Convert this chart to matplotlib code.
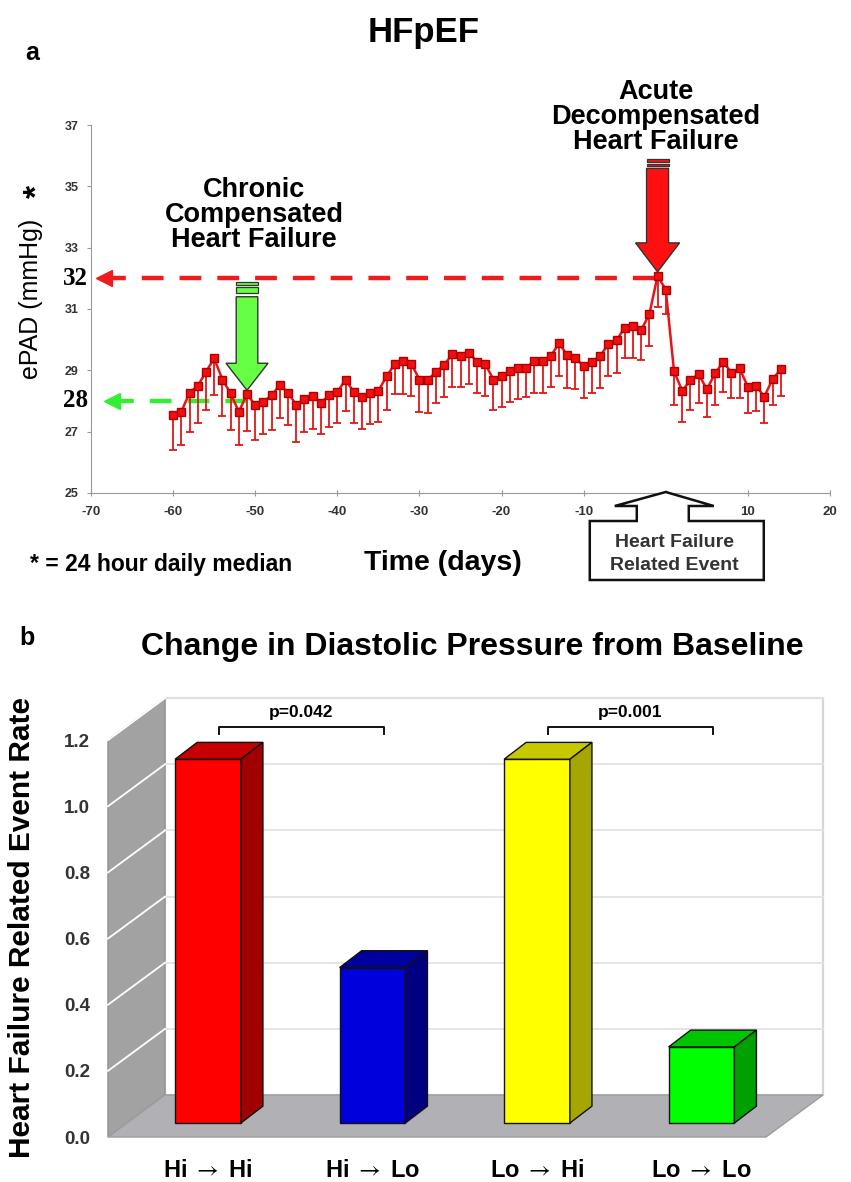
import numpy as np
import matplotlib
matplotlib.use("Agg")
import matplotlib.pyplot as plt
import matplotlib.transforms as mtransforms
from matplotlib.patches import Polygon, Rectangle

# ---- panel a: daily median ePAD around the heart failure event ----
days = np.arange(-60, 15)
epad = np.array([
    27.54, 27.65, 28.27, 28.49, 28.95, 29.39, 28.70, 28.25, 27.65, 28.22,
    27.87, 27.97, 28.19, 28.52, 28.27, 27.87, 28.08, 28.16, 27.94, 28.19,
    28.29, 28.70, 28.29, 28.14, 28.25, 28.33, 28.81, 29.20, 29.31, 29.22,
    28.70, 28.68, 28.95, 29.17, 29.53, 29.46, 29.58, 29.28, 29.22, 28.70,
    28.81, 28.98, 29.08, 29.08, 29.31, 29.31, 29.47, 29.88, 29.50, 29.39,
    29.15, 29.28, 29.47, 29.85, 29.98, 30.39, 30.44, 30.31, 30.83, 32.08,
    31.63, 28.98, 28.33, 28.68, 28.88, 28.38, 28.90, 29.28, 28.92, 29.06,
    28.46, 28.49, 28.14, 28.71, 29.03])
epad_low = np.array([
    26.40, 26.56, 27.00, 27.27, 27.70, 28.19, 27.51, 27.05, 26.56, 27.02,
    26.73, 26.94, 27.05, 27.43, 27.22, 26.67, 27.00, 27.10, 26.94, 27.16,
    27.27, 27.68, 27.29, 27.10, 27.25, 27.33, 27.70, 28.22, 28.22, 28.17,
    27.65, 27.60, 27.95, 28.14, 28.46, 28.46, 28.55, 28.25, 28.17, 27.70,
    27.81, 27.97, 28.08, 28.14, 28.25, 28.27, 28.46, 28.81, 28.41, 28.38,
    28.11, 28.25, 28.41, 28.81, 28.92, 29.39, 29.39, 29.33, 29.79, 31.05,
    30.85, 27.87, 27.33, 27.70, 27.94, 27.49, 27.87, 28.28, 28.11, 28.11,
    27.60, 27.67, 27.27, 27.87, 28.17])
chronic_level = 28
acute_level = 32
chronic_day = -51

# ---- panel b: event rate by change in diastolic pressure ----
groups = [r"Hi $\rightarrow$ Hi", r"Hi $\rightarrow$ Lo",
          r"Lo $\rightarrow$ Hi", r"Lo $\rightarrow$ Lo"]
event_rate = [1.10, 0.47, 1.10, 0.23]
front_cols = ["#ff0000", "#0000dd", "#ffff00", "#00ff00"]
top_cols = ["#c40000", "#00009e", "#c8c800", "#00c400"]
side_cols = ["#a00000", "#000080", "#a6a600", "#00a000"]
p_labels = ["p=0.042", "p=0.001"]
p_pairs = [(0, 1), (2, 3)]

W, H = 851, 1182
plt.rcParams["font.family"] = ["Liberation Sans", "DejaVu Sans"]
plt.rcParams["axes.unicode_minus"] = False
plt.rcParams["mathtext.fontset"] = "stix"
fig = plt.figure(figsize=(W / 100, H / 100), dpi=100)


def fx(x, y):
    # image pixel -> figure fraction
    return x / W, 1 - y / H


# ================= panel a =================
ax = fig.add_axes([91 / W, 1 - 493 / H, (830 - 91) / W, (493 - 125) / H])
ax.set_xlim(-70, 20)
ax.set_ylim(25, 37)
ax.set_xticks(np.arange(-70, 21, 10))
ax.set_yticks(np.arange(25, 38, 2))
for s in ["top", "right"]:
    ax.spines[s].set_visible(False)
for s in ["left", "bottom"]:
    ax.spines[s].set_color("#999999")
ax.tick_params(axis="x", direction="inout", length=5, color="#999999", pad=7,
               labelsize=9.5, labelcolor="#333333")
ax.tick_params(axis="y", direction="out", length=3, color="#999999", pad=6,
               labelsize=9, labelcolor="#333333")
for lab in ax.get_xticklabels() + ax.get_yticklabels():
    lab.set_fontweight("bold")

ax.errorbar(days, epad, yerr=[epad - epad_low, np.zeros_like(epad)], fmt="-s",
            color="#e8141a", lw=1.8, ms=5.5, mfc="#f01010", mec="#b00000",
            ecolor="#e01818", elinewidth=1.3, capsize=3, capthick=1.3, zorder=4)

# reference dashed lines with arrow heads
peak = int(np.argmax(epad))
ax.plot([-68.4, days[peak]], [acute_level] * 2, color="#ee1c1c", lw=3.2,
        dashes=(4.9, 3.6), zorder=3, clip_on=False)
ax.plot([-68.4], [acute_level], marker="<", ms=12, color="#ee1c1c", mec="#ee1c1c",
        clip_on=False, zorder=3)
ax.plot([-67.4, -50.3], [chronic_level] * 2, color="#33ee33", lw=3.2,
        dashes=(4.9, 3.6), zorder=3, clip_on=False)
ax.plot([-67.4], [chronic_level], marker="<", ms=11, color="#33ee33", mec="#33ee33",
        clip_on=False, zorder=3)
ax.annotate(str(acute_level), xy=(-70, acute_level), xytext=(-3, 0),
            textcoords="offset pixels", ha="right", va="center",
            family="Liberation Serif", weight="bold", fontsize=18, annotation_clip=False)
ax.annotate(str(chronic_level), xy=(-70, chronic_level), xytext=(-3, 0),
            textcoords="offset pixels", ha="right", va="center",
            family="Liberation Serif", weight="bold", fontsize=18, annotation_clip=False)


def block_arrow(xd, yd, color, tip, head_h, head_w, shaft_h, shaft_w, bands):
    # downward block arrow, shape in pixels, anchored at a data point
    tr = mtransforms.ScaledTranslation(xd, yd, ax.transData)
    verts = [(0, tip), (head_w, head_h), (shaft_w, head_h), (shaft_w, shaft_h),
             (-shaft_w, shaft_h), (-shaft_w, head_h), (-head_w, head_h)]
    ax.add_patch(Polygon(verts, closed=True, transform=tr, fc=color, ec="#333333",
                         lw=1.0, clip_on=False, zorder=6))
    for y0, y1 in bands:
        ax.add_patch(Rectangle((-shaft_w, y0), 2 * shaft_w, y1 - y0, transform=tr,
                               fc=color, ec="#333333", lw=0.9, clip_on=False, zorder=6))


block_arrow(days[peak], epad[peak], "#ff1010", 4, 33, 22, 107.5, 11,
            [(109.5, 112.0), (113.6, 116.6)])
ci = int(np.where(days == chronic_day)[0][0])
block_arrow(days[ci], epad[ci], "#66ff44", 4, 31, 21, 97.5, 10.8,
            [(101, 107.5), (109.2, 112.5)])

# event callout under day 0
tr0 = mtransforms.ScaledTranslation(0, 25, ax.transData)
callout = [(-76, -28), (-29, -28), (-29, -13), (-51, -13), (0, 1), (48, -13),
           (23, -13), (23, -28), (98, -28), (98, -87), (-76, -87)]
ax.add_patch(Polygon(callout, closed=True, transform=tr0, fc="white", ec="#111111",
                     lw=1.8, clip_on=False, zorder=6))
ax.annotate("Heart Failure", xy=(0, 25), xytext=(9, -54), textcoords="offset pixels",
            ha="center", va="baseline", fontsize=14, weight="bold", color="#333333",
            annotation_clip=False, zorder=7)
ax.annotate("Related Event", xy=(0, 25), xytext=(9, -77), textcoords="offset pixels",
            ha="center", va="baseline", fontsize=14, weight="bold", color="#333333",
            annotation_clip=False, zorder=7)

# panel a texts
fig.text(*fx(424, 42), "HFpEF", ha="center", va="baseline", fontsize=25, weight="bold")
fig.text(*fx(32, 60), "a", ha="center", va="baseline", fontsize=18, weight="bold")
for txt, yb in zip(["Chronic", "Compensated", "Heart Failure"], [197, 222, 247]):
    fig.text(*fx(254, yb), txt, ha="center", va="baseline", fontsize=19.5, weight="bold")
for txt, yb in zip(["Acute", "Decompensated", "Heart Failure"], [99, 124, 149]):
    fig.text(*fx(656, yb), txt, ha="center", va="baseline", fontsize=19.5, weight="bold")
fig.text(*fx(31, 299), "ePAD (mmHg)", rotation=90, ha="center", va="center", fontsize=18)
fig.text(*fx(38, 191), "*", rotation=90, ha="center", va="center", fontsize=24, weight="bold")
fig.text(*fx(30, 571), "* = 24 hour daily median", ha="left", va="baseline",
         fontsize=16.5, weight="bold")
fig.text(*fx(443, 570), "Time (days)", ha="center", va="baseline", fontsize=20.5, weight="bold")

# ================= panel b =================
ux, uy = 164.5, 330.7          # pixels per category / per unit rate
x_left_px, x_right_px, y_top_px, y_bot_px = 100, 835, 690, 1140
zero_x_px, zero_y_px = 208, 1137
ax2 = fig.add_axes([x_left_px / W, 1 - y_bot_px / H, (x_right_px - x_left_px) / W,
                    (y_bot_px - y_top_px) / H])
ax2.set_xlim((x_left_px - zero_x_px) / ux, (x_right_px - zero_x_px) / ux)
ax2.set_ylim((zero_y_px - y_bot_px) / uy, (zero_y_px - y_top_px) / uy)
for s in ax2.spines.values():
    s.set_visible(False)
ax2.patch.set_visible(False)

x0, x1 = -0.608, 3.392          # front edge of floor
dx, dy = 0.3465, 0.127          # depth of the chart box
ytop = 1.2
yt = np.arange(0, 1.21, 0.2)

ax2.add_patch(Rectangle((x0 + dx, dy), x1 - x0, ytop, fc="white", ec="#d6d6d6",
                        lw=1.6, zorder=0))
ax2.add_patch(Polygon([(x0, 0), (x0, ytop), (x0 + dx, ytop + dy), (x0 + dx, dy)],
                      closed=True, fc="#a2a2a2", ec="#909090", lw=1, zorder=0))
ax2.add_patch(Polygon([(x0, 0), (x0 + dx, dy), (x1 + dx, dy), (x1, 0)],
                      closed=True, fc="#b1b1b5", ec="#9c9c9c", lw=1, zorder=0))
for v in yt[1:]:
    ax2.plot([x0 + dx, x1 + dx], [v + dy, v + dy], color="#e3e3e3", lw=1.3, zorder=1)
    ax2.plot([x0, x0 + dx], [v, v + dy], color="white", lw=1.3, zorder=1)

xs = np.arange(len(groups))
bw = 0.40
base = 0.333 * dy
sdx, sdy = 0.134, 0.051
ax2.bar(xs, event_rate, width=bw, bottom=base, color=front_cols, edgecolor="#111111",
        lw=1.0, zorder=3)
for i, v in enumerate(event_rate):
    l, r, t = xs[i] - bw / 2, xs[i] + bw / 2, base + v
    ax2.add_patch(Polygon([(l, t), (r, t), (r + sdx, t + sdy), (l + sdx, t + sdy)],
                          closed=True, fc=top_cols[i], ec="#111111", lw=1.0, zorder=3))
    ax2.add_patch(Polygon([(r, base), (r + sdx, base + sdy), (r + sdx, t + sdy), (r, t)],
                          closed=True, fc=side_cols[i], ec="#111111", lw=1.0, zorder=3))

for (a, b), lab in zip(p_pairs, p_labels):
    xa, xb = xs[a] + sdx / 2, xs[b] + sdx / 2
    ax2.plot([xa, xa, xb, xb], [1.219, 1.24, 1.24, 1.219], color="#111111", lw=1.4,
             zorder=4)
    ax2.text((xa + xb) / 2, 1.262, lab, ha="center", va="bottom", fontsize=12.5,
             weight="bold")

ax2.set_yticks(yt)
ax2.set_yticklabels([f"{v:.1f}" for v in yt])
ax2.set_xticks(xs)
ax2.set_xticklabels(groups)
ax2.tick_params(axis="y", length=0, pad=7, labelsize=13.5, labelcolor="#333333")
ax2.tick_params(axis="x", length=0, pad=14, labelsize=17)
for lab in ax2.get_xticklabels() + ax2.get_yticklabels():
    lab.set_fontweight("bold")

fig.text(*fx(27, 645), "b", ha="center", va="baseline", fontsize=18, weight="bold")
fig.text(*fx(472, 655), "Change in Diastolic Pressure from Baseline", ha="center",
         va="baseline", fontsize=23, weight="bold")
fig.text(*fx(22, 928), "Heart Failure Related Event Rate", rotation=90, ha="center",
         va="center", fontsize=21.5, weight="bold")

fig.savefig("out.png", dpi=100)
